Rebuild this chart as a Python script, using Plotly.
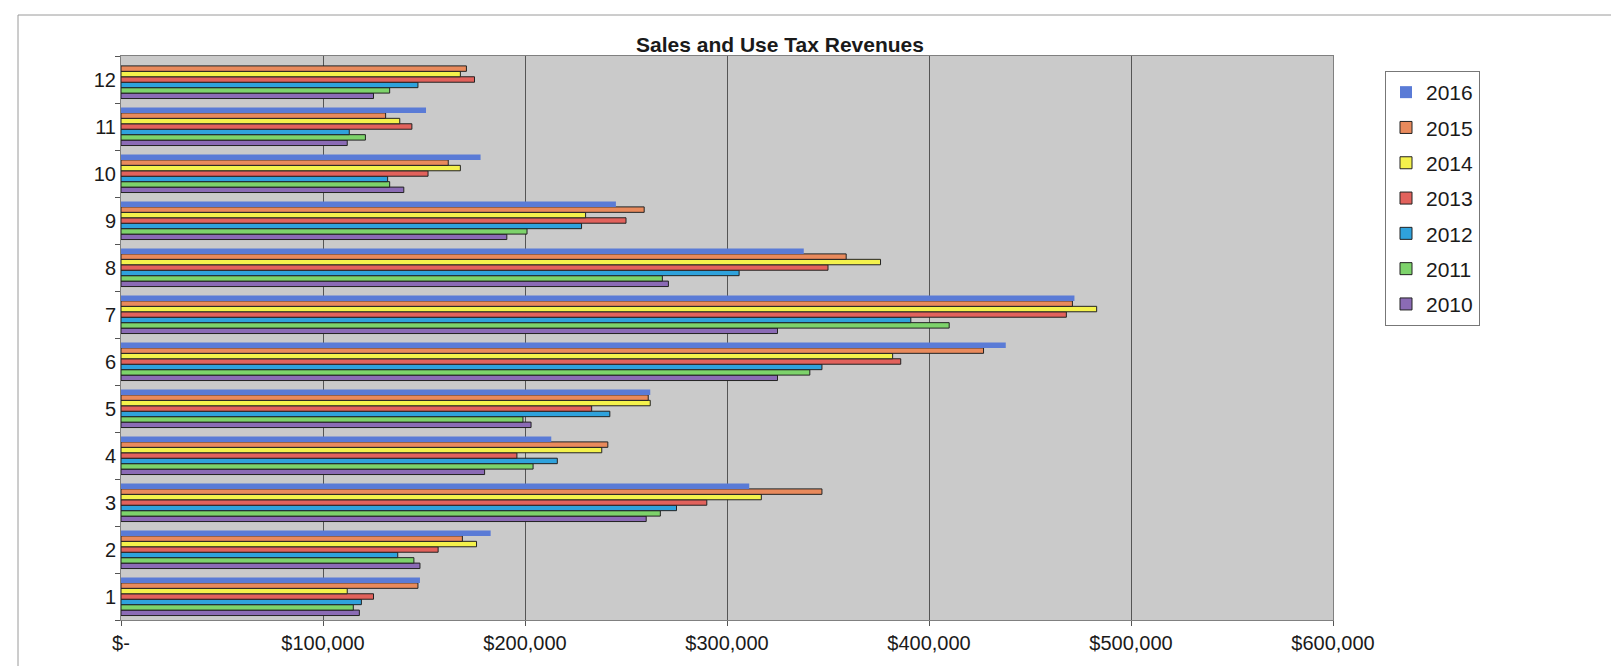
import plotly.graph_objects as go

months = ["1", "2", "3", "4", "5", "6", "7", "8", "9", "10", "11", "12"]
years = ["2010", "2011", "2012", "2013", "2014", "2015", "2016"]

rev_2010 = [118000, 148000, 260000, 180000, 203000, 325000, 325000, 271000, 191000, 140000, 112000, 125000]
rev_2011 = [115000, 145000, 267000, 204000, 199000, 341000, 410000, 268000, 201000, 133000, 121000, 133000]
rev_2012 = [119000, 137000, 275000, 216000, 242000, 347000, 391000, 306000, 228000, 132000, 113000, 147000]
rev_2013 = [125000, 157000, 290000, 196000, 233000, 386000, 468000, 350000, 250000, 152000, 144000, 175000]
rev_2014 = [112000, 176000, 317000, 238000, 262000, 382000, 483000, 376000, 230000, 168000, 138000, 168000]
rev_2015 = [147000, 169000, 347000, 241000, 261000, 427000, 471000, 359000, 259000, 162000, 131000, 171000]
rev_2016 = [148000, 183000, 311000, 213000, 262000, 438000, 472000, 338000, 245000, 178000, 151000, None]

x_tick_vals = [0, 100000, 200000, 300000, 400000, 500000, 600000]
x_tick_text = ["$-", "$100,000", "$200,000", "$300,000", "$400,000", "$500,000", "$600,000"]

series = [rev_2010, rev_2011, rev_2012, rev_2013, rev_2014, rev_2015, rev_2016]
colors = ["#8B6BB5", "#7DD36B", "#2FA2DC", "#E2625C", "#F4F24C", "#E98A5C", "#5A7BD6"]

fig = go.Figure()
for i, (yr, vals, col) in enumerate(zip(years, series, colors)):
    outline = 0 if yr == "2016" else 1
    fig.add_trace(go.Bar(
        y=months, x=vals, name=yr, orientation="h",
        legendgroup=yr, legendrank=len(years) - i,
        marker=dict(color=col, line=dict(color="#222222", width=outline)),
    ))

W, H = 1619, 666
L, R, T, B = 113, 1325, 48, 612
pw, ph = R - L, B - T

def px_x(px):
    return (px - L) / pw

def px_y(py):
    return (B - py) / ph

fig.update_layout(
    width=W, height=H,
    margin=dict(l=L, r=W - R, t=T, b=H - B),
    barmode="group", bargap=0.19, bargroupgap=0,
    paper_bgcolor="white", plot_bgcolor="#CACACA",
    font=dict(family="Liberation Sans, Arial, sans-serif", size=20, color="#1a1a1a"),
    title=dict(text="<b>Sales and Use Tax Revenues</b>", x=772 / W, xanchor="center",
               y=1 - 37 / H, yanchor="middle", font=dict(size=21)),
    legend=dict(x=px_x(1377), y=px_y(63), xanchor="left", yanchor="top",
                traceorder="grouped", tracegroupgap=5,
                bordercolor="#777777", borderwidth=1, bgcolor="white",
                font=dict(size=21)),
    xaxis=dict(range=[0, 600000], tickvals=x_tick_vals, ticktext=x_tick_text,
               showgrid=True, gridcolor="#555555", gridwidth=1, zeroline=False,
               showline=True, linecolor="#808080", linewidth=1, mirror=True,
               ticks="outside", ticklen=5, tickcolor="#555555"),
    yaxis=dict(type="category", categoryorder="array", categoryarray=months,
               tickson="boundaries", ticks="outside", ticklen=5, tickcolor="#555555",
               showgrid=False, showline=True, linecolor="#808080", linewidth=1, mirror=True),
    shapes=[dict(type="rect", xref="paper", yref="paper",
                 x0=px_x(10), x1=px_x(1612), y0=px_y(660), y1=px_y(7),
                 line=dict(color="#9a9a9a", width=1), fillcolor="rgba(0,0,0,0)", layer="below")],
)

fig.write_html("out.html")
